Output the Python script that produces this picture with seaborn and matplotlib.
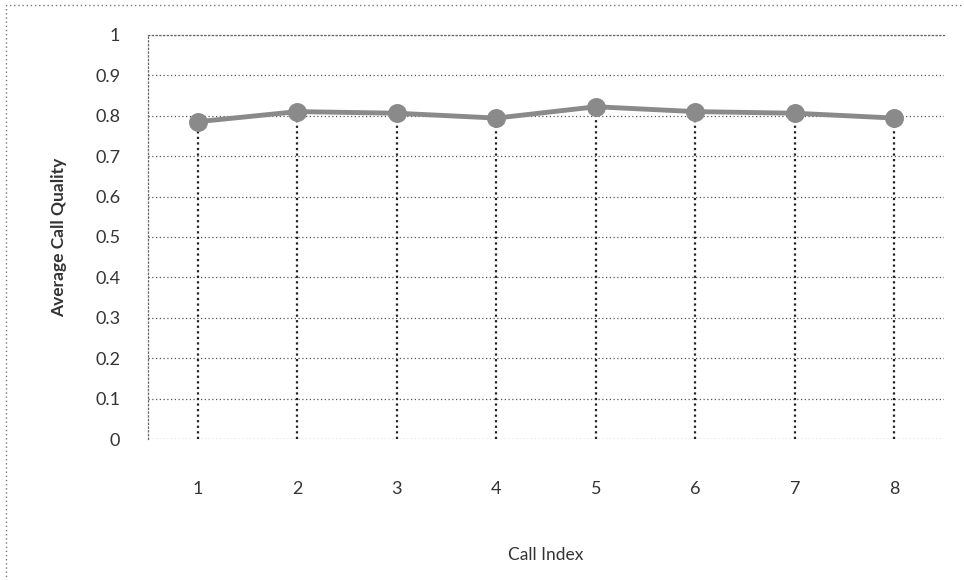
import matplotlib
matplotlib.use("Agg")
import matplotlib.pyplot as plt
import pandas as pd
import seaborn as sns
from matplotlib.patches import Rectangle

call_index = ["1", "2", "3", "4", "5", "6", "7", "8"]
avg_quality = [0.785, 0.81, 0.806, 0.794, 0.822, 0.81, 0.806, 0.794]
y_ticks = [0, 0.1, 0.2, 0.3, 0.4, 0.5, 0.6, 0.7, 0.8, 0.9, 1]
y_tick_labels = ["0", "0.1", "0.2", "0.3", "0.4", "0.5", "0.6", "0.7", "0.8", "0.9", "1"]

df = pd.DataFrame({"call": call_index, "quality": avg_quality})

sns.set_style("white")
plt.rcParams['font.family'] = ['Lato', 'DejaVu Sans']

fig = plt.figure(figsize=(9.64, 5.8), dpi=100)
ax = fig.add_axes([0.1535, 0.243, 0.826, 0.697])

# dotted border round the whole chart area
fig.patches.append(Rectangle((0.006, -0.05), 1.1, 1.041, transform=fig.transFigure,
                             fill=False, edgecolor='#777777', linestyle=(0, (1, 2)),
                             linewidth=1))

# drop lines from each point to zero
ax.vlines(range(len(call_index)), 0, avg_quality, colors='#222222',
          linestyles=(0, (1, 1.5)), linewidth=1.6, zorder=2)

sns.pointplot(data=df, x="call", y="quality", ax=ax, color='#8a8a8a',
              markers='o', markersize=11, linewidth=3.5, zorder=3)

ax.set_ylim(0, 1)
ax.set_xlim(-0.5, len(call_index) - 0.5)
ax.set_yticks(y_ticks)
ax.set_yticklabels(y_tick_labels)
ax.yaxis.grid(True, color='#555555', linestyle=(0, (1, 2)), linewidth=0.9)
ax.set_axisbelow(True)

for side in ['right', 'bottom']:
    ax.spines[side].set_visible(False)
for side in ['left', 'top']:
    ax.spines[side].set_color('#666666')
    ax.spines[side].set_linestyle((0, (1, 2)))
    ax.spines[side].set_linewidth(0.9)

ax.tick_params(axis='y', length=0, pad=20, labelsize=13, labelcolor='#333333')
ax.tick_params(axis='x', length=0, pad=30, labelsize=13, labelcolor='#333333')

ax.set_xlabel("Call Index", fontsize=12.5, color='#333333', labelpad=36)
ax.set_ylabel("Average Call Quality", fontsize=12.5, fontweight='bold',
              color='#333333', labelpad=20)

fig.savefig("out.png", dpi=100)
